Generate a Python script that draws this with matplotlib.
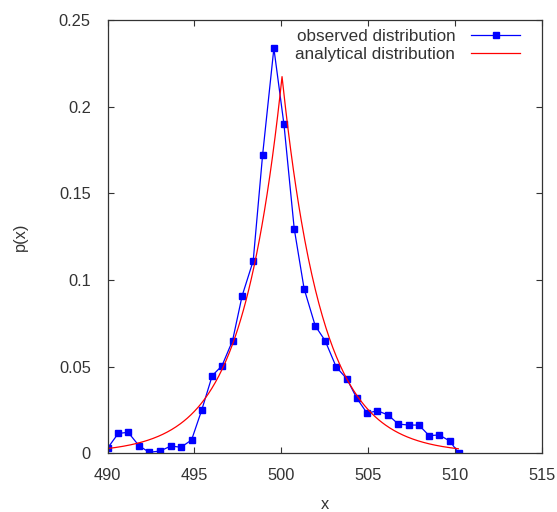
import numpy as np
import matplotlib
matplotlib.use("Agg")
import matplotlib.pyplot as plt

plt.rcParams['font.family'] = ['Liberation Sans', 'DejaVu Sans']

# observed histogram (bin centres and relative frequency)
x_obs = [490.00, 490.62, 491.19, 491.81, 492.40, 493.02, 493.65, 494.23, 494.84,
         495.42, 496.03, 496.59, 497.20, 497.75, 498.39, 498.93, 499.58, 500.16,
         500.75, 501.32, 501.96, 502.53, 503.17, 503.78, 504.36, 504.95, 505.53,
         506.16, 506.74, 507.35, 507.93, 508.52, 509.10, 509.71, 510.23]
p_obs = [0.0029, 0.0115, 0.0121, 0.0044, 0.0006, 0.0013, 0.0042, 0.0035, 0.0077,
         0.0248, 0.0448, 0.0505, 0.0650, 0.0908, 0.1111, 0.1721, 0.2337, 0.1898,
         0.1297, 0.0950, 0.0736, 0.0650, 0.0498, 0.0430, 0.0317, 0.0231, 0.0246,
         0.0221, 0.0169, 0.0163, 0.0163, 0.0102, 0.0106, 0.0071, 0.0000]

# analytical (Laplace) distribution parameters
mu = 500.05
b = 2.3
x_min, x_max = 490.0, 510.2


def laplace(x, mu, b):
    return np.exp(-np.abs(x - mu) / b) / (2 * b)


xs = np.linspace(x_min, x_max, 401)

fig = plt.figure(figsize=(5.57, 5.12), dpi=100)
ax = fig.add_axes([0.193, 0.1146, 0.7795, 0.8463])

ax.plot(x_obs, p_obs, color='#0000ff', lw=0.9, marker='s', ms=4.4,
        label='observed distribution')
ax.plot(xs, laplace(xs, mu, b), color='#ff0000', lw=0.9,
        label='analytical distribution')

ax.set_xlim(490, 515)
ax.set_ylim(0, 0.25)
ax.set_xticks([490, 495, 500, 505, 510, 515])
ax.set_yticks([0, 0.05, 0.1, 0.15, 0.2, 0.25])
ax.set_yticklabels(['0', '0.05', '0.1', '0.15', '0.2', '0.25'])

ax.tick_params(direction='in', length=4, width=0.8, top=True, right=True,
               labelsize=11.8, labelcolor='#333333', color='#333333')
ax.tick_params(axis='x', pad=10.5)
ax.tick_params(axis='y', pad=12)
for s in ax.spines.values():
    s.set_color('#333333')
    s.set_linewidth(0.9)

ax.set_xlabel('x', fontsize=11.8, color='#333333', labelpad=10)
ax.set_ylabel('p(x)', fontsize=11.8, color='#333333', labelpad=22)

ax.legend(loc='upper right', bbox_to_anchor=(0.977, 1.007), frameon=False,
          markerfirst=False, fontsize=12.3, handlelength=2.83,
          handletextpad=0.94, labelspacing=0.2, borderaxespad=0.3,
          labelcolor='#333333')

fig.savefig('out.png', dpi=100)
